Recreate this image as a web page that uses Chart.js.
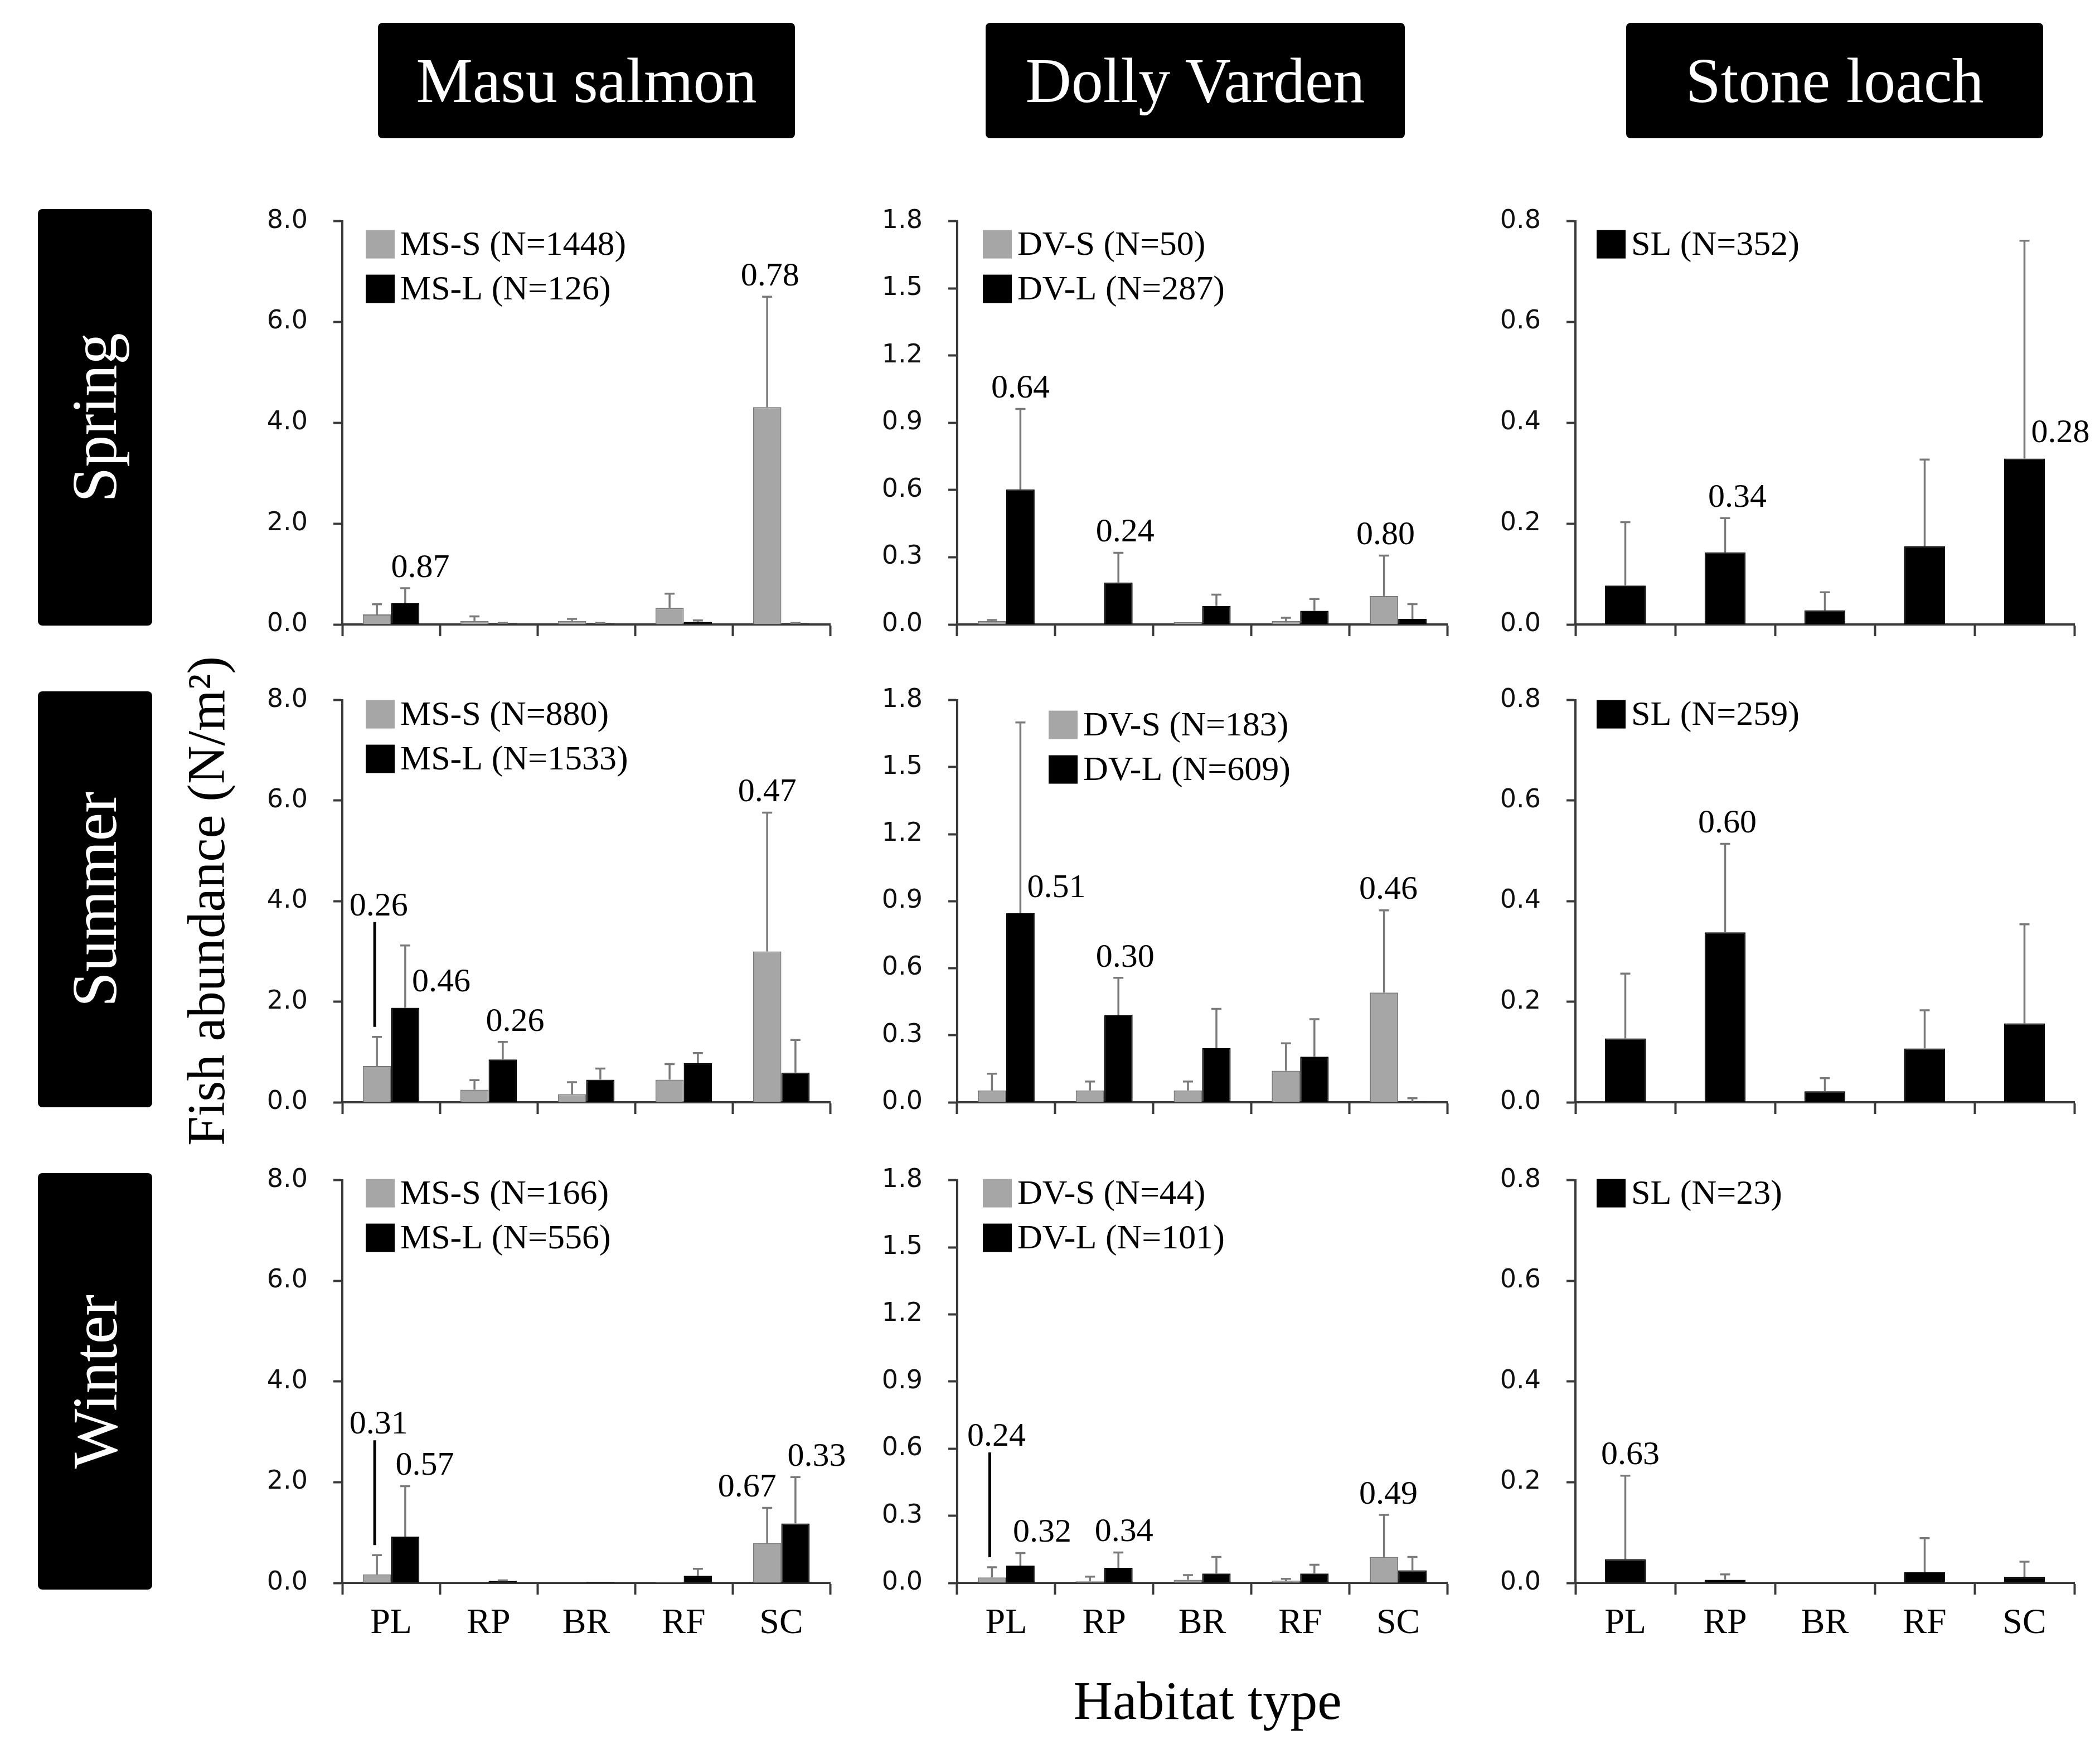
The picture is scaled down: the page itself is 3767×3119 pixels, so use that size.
<!DOCTYPE html>
<html lang="en">
<head>
<meta charset="UTF-8">
<title>Fish abundance by habitat type</title>
<script src="https://cdn.jsdelivr.net/npm/chart.js@4.4.1/dist/chart.umd.min.js"></script>
<style>
  html, body { margin: 0; padding: 0; background: #fff; }
  body { width: 3767px; height: 3119px; position: relative; overflow: hidden; font-family: "Liberation Serif", serif; }
  .box { position: absolute; background: #000; color: #fff; border-radius: 8px; display: flex; align-items: center; justify-content: center; font-size: 114px; line-height: 1; white-space: nowrap; }
  .box.side span { transform: rotate(-90deg); }
  .panel { position: absolute; }
  .title { position: absolute; white-space: nowrap; line-height: 1; color: #000; }
</style>
</head>
<body>
<div class="box" style="left:678px; top:41px; width:748px; height:207px;">Masu salmon</div>
<div class="box" style="left:1768px; top:41px; width:752px; height:207px;">Dolly Varden</div>
<div class="box" style="left:2917px; top:41px; width:748px; height:207px;">Stone loach</div>
<div class="box side" style="left:68px; top:375px; width:205px; height:747px;"><span>Spring</span></div>
<div class="box side" style="left:68px; top:1240px; width:205px; height:746px;"><span>Summer</span></div>
<div class="box side" style="left:68px; top:2104px; width:205px; height:747px;"><span>Winter</span></div>
<div class="title" style="left:370px; top:1616px; font-size:95px; transform: translate(-50%, -50%) rotate(-90deg);">Fish abundance (N/m²)</div>
<div class="title" style="left:2166px; top:3050px; font-size:98px; transform: translate(-50%, -50%);">Habitat type</div>

<script>
// habitat categories on every x axis
const habitats = ['PL', 'RP', 'BR', 'RF', 'SC'];

// y axis ticks per species
const msTicks = [0, 2, 4, 6, 8];
const dvTicks = [0, 0.3, 0.6, 0.9, 1.2, 1.5, 1.8];
const slTicks = [0, 0.2, 0.4, 0.6, 0.8];

// Masu salmon, small (S) and large (L): mean and mean + error
const msSpringS = [0.20, 0.07, 0.07, 0.33, 4.31];
const msSpringSUp = [0.40, 0.16, 0.11, 0.61, 6.50];
const msSpringL = [0.42, 0.02, 0.02, 0.05, 0.02];
const msSpringLUp = [0.72, 0.03, 0.03, 0.08, 0.03];
const msSummerS = [0.72, 0.25, 0.16, 0.45, 3.00];
const msSummerSUp = [1.30, 0.44, 0.40, 0.76, 5.76];
const msSummerL = [1.88, 0.85, 0.45, 0.78, 0.59];
const msSummerLUp = [3.12, 1.20, 0.67, 0.98, 1.24];
const msWinterS = [0.17, 0.00, 0.00, 0.02, 0.79];
const msWinterSUp = [0.55, 0.00, 0.00, 0.02, 1.49];
const msWinterL = [0.92, 0.04, 0.02, 0.14, 1.18];
const msWinterLUp = [1.92, 0.05, 0.02, 0.28, 2.10];

// Dolly Varden
const dvSpringS = [0.015, 0.000, 0.010, 0.015, 0.127];
const dvSpringSUp = [0.020, 0.000, 0.010, 0.030, 0.307];
const dvSpringL = [0.603, 0.187, 0.083, 0.061, 0.025];
const dvSpringLUp = [0.962, 0.320, 0.133, 0.114, 0.091];
const dvSummerS = [0.053, 0.053, 0.053, 0.141, 0.491];
const dvSummerSUp = [0.128, 0.093, 0.093, 0.264, 0.859];
const dvSummerL = [0.846, 0.389, 0.242, 0.204, 0.003];
const dvSummerLUp = [1.700, 0.557, 0.418, 0.372, 0.018];
const dvWinterS = [0.024, 0.007, 0.014, 0.010, 0.116];
const dvWinterSUp = [0.070, 0.028, 0.035, 0.018, 0.304];
const dvWinterL = [0.077, 0.067, 0.042, 0.042, 0.056];
const dvWinterLUp = [0.133, 0.136, 0.116, 0.081, 0.116];

// Stone loach
const slSpring = [0.077, 0.143, 0.028, 0.155, 0.329];
const slSpringUp = [0.203, 0.211, 0.064, 0.327, 0.761];
const slSummer = [0.127, 0.338, 0.022, 0.107, 0.157];
const slSummerUp = [0.256, 0.514, 0.048, 0.183, 0.354];
const slWinter = [0.047, 0.006, 0.000, 0.021, 0.012];
const slWinterUp = [0.213, 0.017, 0.000, 0.089, 0.042];

// numbers printed over bars: [habitat index, series index, text]
const msSpringNotes = [[0, 1, '0.87'], [4, 0, '0.78']];
const dvSpringNotes = [[0, 1, '0.64'], [1, 1, '0.24'], [4, 0, '0.80']];
const slSpringNotes = [[1, 0, '0.34'], [4, 0, '0.28']];
const msSummerNotes = [[0, 0, '0.26'], [0, 1, '0.46'], [1, 1, '0.26'], [4, 0, '0.47']];
const dvSummerNotes = [[0, 1, '0.51'], [1, 1, '0.30'], [4, 0, '0.46']];
const slSummerNotes = [[1, 0, '0.60']];
const msWinterNotes = [[0, 0, '0.31'], [0, 1, '0.57'], [4, 0, '0.67'], [4, 1, '0.33']];
const dvWinterNotes = [[0, 0, '0.24'], [0, 1, '0.32'], [1, 1, '0.34'], [4, 0, '0.49']];
const slWinterNotes = [[0, 0, '0.63']];

// where each note sits relative to its bar: [mode, x shift in px]
const notePlacement = {
  msSpring: [['above', 27], ['above', 5]],
  dvSpring: [['above', 0], ['above', 12], ['above', 3]],
  slSpring: [['above', 22], ['right', 0]],
  msSummer: [['leader', 3], ['right', 0], ['above', 22], ['above', 0]],
  dvSummer: [['right', 0], ['above', 12], ['above', 8]],
  slSummer: [['above', 4]],
  msWinter: [['leader', 3], ['above', 35], ['above', -36], ['above', 38]],
  dvWinter: [['leader', 8], ['above', 39], ['above', 10], ['above', 8]],
  slWinter: [['above', 9]]
};

// legend offset from the top left corner of the plot area
const legendOffset = {
  msSpring: [42, 16], dvSpring: [46, 16], slSpring: [38, 16],
  msSummer: [42, 0], dvSummer: [164, 19], slSummer: [38, 0],
  msWinter: [42, -2], dvWinter: [46, -2], slWinter: [38, -2]
};

const panels = [
  { id: 'msSpring', col: 0, row: 0, ticks: msTicks, notes: msSpringNotes, series: [
    { label: 'MS-S (N=1448)', kind: 'S', values: msSpringS, upper: msSpringSUp },
    { label: 'MS-L (N=126)', kind: 'L', values: msSpringL, upper: msSpringLUp }] },
  { id: 'dvSpring', col: 1, row: 0, ticks: dvTicks, notes: dvSpringNotes, series: [
    { label: 'DV-S (N=50)', kind: 'S', values: dvSpringS, upper: dvSpringSUp },
    { label: 'DV-L (N=287)', kind: 'L', values: dvSpringL, upper: dvSpringLUp }] },
  { id: 'slSpring', col: 2, row: 0, ticks: slTicks, notes: slSpringNotes, series: [
    { label: 'SL (N=352)', kind: 'L', values: slSpring, upper: slSpringUp }] },
  { id: 'msSummer', col: 0, row: 1, ticks: msTicks, notes: msSummerNotes, series: [
    { label: 'MS-S (N=880)', kind: 'S', values: msSummerS, upper: msSummerSUp },
    { label: 'MS-L (N=1533)', kind: 'L', values: msSummerL, upper: msSummerLUp }] },
  { id: 'dvSummer', col: 1, row: 1, ticks: dvTicks, notes: dvSummerNotes, series: [
    { label: 'DV-S (N=183)', kind: 'S', values: dvSummerS, upper: dvSummerSUp },
    { label: 'DV-L (N=609)', kind: 'L', values: dvSummerL, upper: dvSummerLUp }] },
  { id: 'slSummer', col: 2, row: 1, ticks: slTicks, notes: slSummerNotes, series: [
    { label: 'SL (N=259)', kind: 'L', values: slSummer, upper: slSummerUp }] },
  { id: 'msWinter', col: 0, row: 2, ticks: msTicks, notes: msWinterNotes, series: [
    { label: 'MS-S (N=166)', kind: 'S', values: msWinterS, upper: msWinterSUp },
    { label: 'MS-L (N=556)', kind: 'L', values: msWinterL, upper: msWinterLUp }] },
  { id: 'dvWinter', col: 1, row: 2, ticks: dvTicks, notes: dvWinterNotes, series: [
    { label: 'DV-S (N=44)', kind: 'S', values: dvWinterS, upper: dvWinterSUp },
    { label: 'DV-L (N=101)', kind: 'L', values: dvWinterL, upper: dvWinterLUp }] },
  { id: 'slWinter', col: 2, row: 2, ticks: slTicks, notes: slWinterNotes, series: [
    { label: 'SL (N=23)', kind: 'L', values: slWinter, upper: slWinterUp }] }
];

// page layout of the plot areas
const COLS = [{ left: 614, right: 1489 }, { left: 1717, right: 2596 }, { left: 2826, right: 3721 }];
const ROWS = [{ top: 397, bottom: 1120 }, { top: 1256, bottom: 1977 }, { top: 2117, bottom: 2839 }];
const Y_W = 260, PAD_T = 40, PAD_R = 80, X_H = 130;

const SERIF = '"Liberation Serif", "Times New Roman", serif';
const SANS = '"DejaVu Sans", Verdana, sans-serif';
const AXIS = '#3a3a3a';
const GRAY = '#a6a6a6';
const GRAY_EDGE = '#7a7a7a';
const ERR = '#7a7a7a';

function makeDecor(p) {
  return {
    id: 'decor_' + p.id,
    afterDatasetsDraw(chart) {
      const ctx = chart.ctx;
      const ys = chart.scales.y;
      const area = chart.chartArea;
      ctx.save();

      // error bars (upper side only)
      ctx.strokeStyle = ERR;
      ctx.lineWidth = 3.5;
      p.series.forEach((s, i) => {
        const meta = chart.getDatasetMeta(i);
        s.upper.forEach((u, j) => {
          if (u <= s.values[j]) return;
          const bar = meta.data[j];
          const top = ys.getPixelForValue(u);
          ctx.beginPath();
          ctx.moveTo(bar.x, bar.y);
          ctx.lineTo(bar.x, top);
          ctx.moveTo(bar.x - 9, top);
          ctx.lineTo(bar.x + 9, top);
          ctx.stroke();
        });
      });

      // numbers over bars
      ctx.fillStyle = '#000';
      ctx.font = '60px ' + SERIF;
      ctx.textBaseline = 'middle';
      const place = notePlacement[p.id];
      p.notes.forEach((n, k) => {
        const [cat, si, text] = n;
        const [mode, dx] = place[k];
        const bar = chart.getDatasetMeta(si).data[cat];
        const errTop = ys.getPixelForValue(p.series[si].upper[cat]);
        if (mode === 'right') {
          ctx.textAlign = 'left';
          ctx.fillText(text, bar.x + 12, bar.y - 45);
        } else if (mode === 'leader') {
          const ly = errTop - 234;
          ctx.textAlign = 'center';
          ctx.fillText(text, bar.x + dx, ly);
          ctx.strokeStyle = '#000';
          ctx.lineWidth = 5;
          ctx.beginPath();
          ctx.moveTo(bar.x - 4, ly + 28);
          ctx.lineTo(bar.x - 4, errTop - 18);
          ctx.stroke();
        } else {
          ctx.textAlign = 'center';
          ctx.fillText(text, bar.x + dx, errTop - 36);
        }
      });

      // legend inside the plot
      const [lx, ly] = legendOffset[p.id];
      ctx.font = '62px ' + SERIF;
      ctx.textAlign = 'left';
      p.series.forEach((s, i) => {
        const bx = area.left + lx, by = area.top + ly + i * 80;
        ctx.fillStyle = s.kind === 'S' ? GRAY : '#000';
        ctx.fillRect(bx, by, 52, 51);
        ctx.fillStyle = '#000';
        ctx.fillText(s.label, bx + 62, by + 28);
      });
      ctx.restore();
    }
  };
}

panels.forEach(p => {
  const c = COLS[p.col], r = ROWS[p.row];
  const div = document.createElement('div');
  div.className = 'panel';
  // place the canvas so that the plot area lands on the page layout above
  const place = (extraTop) => {
    div.style.left = (c.left - Y_W) + 'px';
    div.style.top = (r.top - PAD_T - extraTop) + 'px';
    div.style.width = (Y_W + c.right - c.left + PAD_R) + 'px';
    div.style.height = (PAD_T + extraTop + r.bottom - r.top + X_H) + 'px';
  };
  place(0);
  const cv = document.createElement('canvas');
  div.appendChild(cv);
  document.body.appendChild(div);

  const single = p.series.length === 1;
  const chart = new Chart(cv, {
    type: 'bar',
    data: {
      labels: habitats,
      datasets: p.series.map(s => ({
        label: s.label,
        data: s.values,
        backgroundColor: s.kind === 'S' ? GRAY : '#000',
        borderColor: s.kind === 'S' ? GRAY_EDGE : '#000',
        borderWidth: 2,
        categoryPercentage: single ? 0.41 : 0.58,
        barPercentage: 1.0
      }))
    },
    options: {
      responsive: true,
      maintainAspectRatio: false,
      animation: false,
      devicePixelRatio: 1,
      layout: { autoPadding: false, padding: { top: PAD_T, right: PAD_R, left: 0, bottom: 0 } },
      plugins: { legend: { display: false }, title: { display: false }, tooltip: { enabled: false } },
      scales: {
        x: {
          offset: true,
          grid: { offset: true, drawOnChartArea: false, tickLength: 21, tickWidth: 4, tickColor: AXIS },
          border: { color: AXIS, width: 4 },
          ticks: { display: p.row === 2, font: { family: SERIF, size: 64 }, color: '#000', padding: 14, maxRotation: 0, autoSkip: false },
          afterFit: s => { s.height = X_H; }
        },
        y: {
          min: 0,
          max: p.ticks[p.ticks.length - 1],
          afterBuildTicks: s => { s.ticks = p.ticks.map(v => ({ value: v })); },
          grid: { drawOnChartArea: false, tickLength: 16, tickWidth: 4, tickColor: AXIS },
          border: { color: AXIS, width: 4 },
          ticks: { font: { family: SANS, size: 46 }, color: '#111', padding: 46, callback: v => Number(v).toFixed(1) },
          afterFit: s => { s.width = Y_W; }
        }
      }
    },
    plugins: [makeDecor(p)]
  });
  // chart.js keeps some extra room above the plot; shift the canvas to cancel it
  const extra = Math.round(chart.chartArea.top - PAD_T);
  if (extra !== 0) {
    place(extra);
    chart.resize();
  }
});
</script>
</body>
</html>
